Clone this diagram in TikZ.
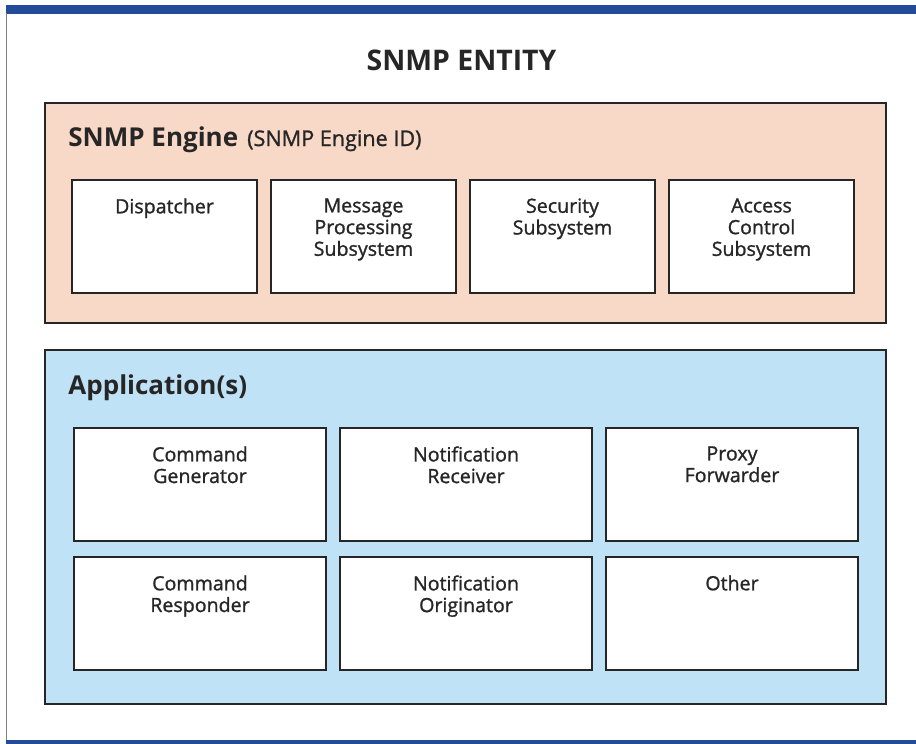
\documentclass[tikz,border=0pt]{standalone}
\usepackage{fontspec}
\setmainfont{Open Sans}
\newfontfamily\labelfont[FakeBold=1.2]{Open Sans}
\usepackage{tikz}
\usetikzlibrary{positioning}

\definecolor{enginefill}{HTML}{F8D8C6}
\definecolor{appfill}{HTML}{BFE2F6}
\definecolor{barblue}{HTML}{234C98}
\definecolor{inkgrey}{HTML}{262626}

\tikzset{
  layer/.style={draw=inkgrey,line width=1pt,anchor=north west,inner sep=0pt,outer sep=0pt,minimum width=420.5pt},
  unit/.style={draw=inkgrey,fill=white,line width=1pt,inner sep=0pt,outer sep=0pt,minimum height=56.5pt},
  enginebox/.style={unit,minimum width=92.5pt},
  appbox/.style={unit,minimum width=126pt},
  unitlabel/.style={inner sep=0pt,align=center,text=inkgrey,font=\labelfont\fontsize{9.8}{10.85}\selectfont},
  heading/.style={inner sep=0pt,anchor=base west,text=inkgrey}
}

\begin{document}
\begin{tikzpicture}[x=0.5pt,y=-0.5pt]
      \useasboundingbox (0,0) rectangle (916,744);
      % frame
      \fill[barblue] (6,5) rectangle (916,13.5);
      \fill[barblue] (6,740) rectangle (916,744);
      \draw[gray,line width=0.75pt] (6.5,13) -- (6.5,740);

      \node[inner sep=0pt,anchor=base,text=inkgrey,font=\bfseries\fontsize{14.2}{16}\selectfont](title) at (461.5,70){SNMP ENTITY};

      % engine
      \node[layer,fill=enginefill,minimum height=110pt](engine) at (45,103){};
      \node[heading](engine-h) at (68,146){{\bfseries\fontsize{13}{15}\selectfont SNMP Engine}\hspace{4.5pt}{\labelfont\fontsize{10.8}{13}\selectfont(SNMP Engine ID)}};
      \node[enginebox,anchor=north west](disp) at (72,180){};
      \node[enginebox,right=7pt of disp](mps){};
      \node[enginebox,right=7pt of mps](sec){};
      \node[enginebox,right=7pt of sec](acs){};
      \node[unitlabel,below=9pt of disp.north](disp-t){Dispatcher};
      \node[unitlabel,below=9pt of mps.north](mps-t){Message\\Processing\\Subsystem};
      \node[unitlabel,below=9pt of sec.north](sec-t){Security\\Subsystem};
      \node[unitlabel,below=9pt of acs.north](acs-t){Access\\Control\\Subsystem};

      % applications
      \node[layer,fill=appfill,minimum height=177pt](apps) at (45,350){};
      \node[heading,font=\bfseries\fontsize{13}{15}\selectfont](apps-h) at (68,394){Application(s)};
      \node[appbox,anchor=north west](cmdgen) at (74,428){};
      \node[appbox,right=7pt of cmdgen](notrec){};
      \node[appbox,right=7pt of notrec](proxy){};
      \node[appbox,below=8pt of cmdgen](cmdres){};
      \node[appbox,below=8pt of notrec](notorig){};
      \node[appbox,below=8pt of proxy](other){};
      \node[unitlabel,below=9pt of cmdgen.north](cmdgen-t){Command\\Generator};
      \node[unitlabel,below=9pt of notrec.north](notrec-t){Notification\\Receiver};
      \node[unitlabel,below=9pt of proxy.north](proxy-t){Proxy\\Forwarder};
      \node[unitlabel,below=9pt of cmdres.north](cmdres-t){Command\\Responder};
      \node[unitlabel,below=9pt of notorig.north](notorig-t){Notification\\Originator};
      \node[unitlabel,below=9pt of other.north](other-t){Other};
\end{tikzpicture}
\end{document}
